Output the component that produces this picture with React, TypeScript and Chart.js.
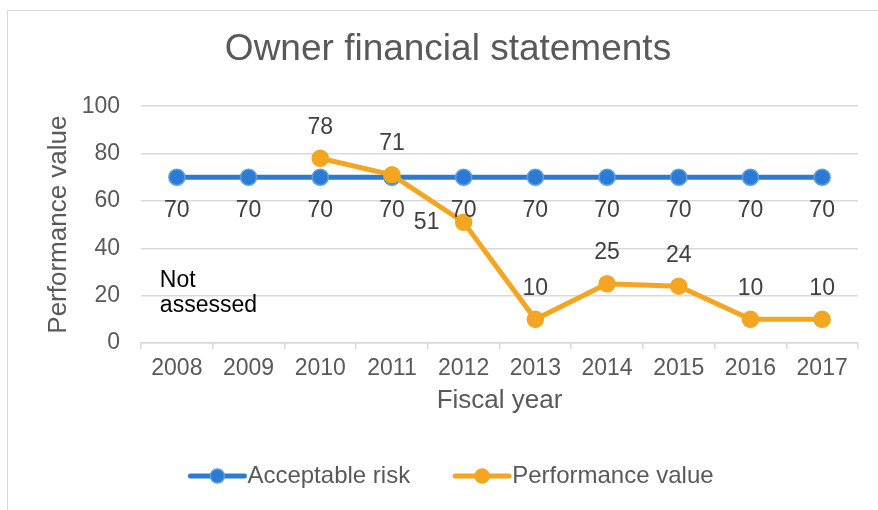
import { useEffect, useRef } from "react";
import { Chart, registerables } from "chart.js";

Chart.register(...registerables);

// ---- data ----
const years = ["2008", "2009", "2010", "2011", "2012", "2013", "2014", "2015", "2016", "2017"];
const acceptableRisk = [70, 70, 70, 70, 70, 70, 70, 70, 70, 70];
const performanceValue: (number | null)[] = [null, null, 78, 71, 51, 10, 25, 24, 10, 10];
const yMin = 0;
const yMax = 100;
const yStep = 20;
const chartTitle = "Owner financial statements";
const xAxisTitle = "Fiscal year";
const yAxisTitle = "Performance value";
const seriesNames = ["Acceptable risk", "Performance value"];
const noteLines = ["Not", "assessed"];

// ---- style ----
const FONT = "'Liberation Sans', Arial, Helvetica, sans-serif";
const BLUE = "#2b7bd5";
const BLUE_EDGE = "#5c9ee2";
const ORANGE = "#f4a521";
const TEXT = "#595959";
const LABEL = "#404040";
const GRID = "#d9d9d9";
// label side for performance series (layout, not data)
const perfLabelSide = ["above", "above", "above", "above", "left", "above", "above", "above", "above", "above"];

const overlayPlugin = {
  id: "overlay",
  afterDatasetsDraw(chart: any) {
    const ctx = chart.ctx as CanvasRenderingContext2D;
    ctx.save();
    ctx.font = `23px ${FONT}`;
    ctx.fillStyle = LABEL;
    ctx.textAlign = "center";
    ctx.textBaseline = "middle";
    chart.data.datasets.forEach((ds: any, di: number) => {
      const meta = chart.getDatasetMeta(di);
      meta.data.forEach((pt: any, i: number) => {
        const v = ds.data[i];
        if (v == null) return;
        let dx = 0;
        let dy = 0;
        if (di === 0) {
          dy = 33;
        } else if (perfLabelSide[i] === "left") {
          dx = -37;
        } else {
          dy = -31;
        }
        ctx.fillText(String(v), pt.x + dx, pt.y + dy);
      });
    });

    // "Not assessed" note
    const xs = chart.scales.x;
    const ys = chart.scales.y;
    ctx.fillStyle = "#000000";
    ctx.textAlign = "left";
    const nx = xs.getPixelForValue(0) - 17;
    const ny = ys.getPixelForValue(26.5);
    noteLines.forEach((t, k) => ctx.fillText(t, nx, ny + k * 25));

    // legend
    ctx.font = `24px ${FONT}`;
    const lineW = 54;
    const gapText = 3;
    const gapItem = 45;
    const colors = [BLUE, ORANGE];
    const edges = [BLUE_EDGE, ORANGE];
    const widths = seriesNames.map((n) => ctx.measureText(n).width);
    const total = widths.reduce((a, w) => a + lineW + gapText + w, 0) + gapItem;
    let x = chart.width / 2 - total / 2 + 13;
    const y = chart.height - 34;
    seriesNames.forEach((n, k) => {
      ctx.strokeStyle = colors[k];
      ctx.lineWidth = 5;
      ctx.lineCap = "round";
      ctx.beginPath();
      ctx.moveTo(x, y);
      ctx.lineTo(x + lineW, y);
      ctx.stroke();
      ctx.beginPath();
      ctx.arc(x + lineW / 2, y, 7, 0, Math.PI * 2);
      ctx.fillStyle = colors[k];
      ctx.fill();
      ctx.lineWidth = 1.5;
      ctx.strokeStyle = edges[k];
      ctx.stroke();
      ctx.fillStyle = TEXT;
      ctx.textAlign = "left";
      ctx.fillText(n, x + lineW + gapText, y);
      x += lineW + gapText + widths[k] + gapItem;
    });
    ctx.restore();
  },
};

export default function App() {
  const ref = useRef<HTMLCanvasElement | null>(null);

  useEffect(() => {
    if (!ref.current) return;
    Chart.defaults.font.family = FONT;
    const chart = new Chart(ref.current, {
      type: "line",
      data: {
        labels: years,
        datasets: [
          {
            label: seriesNames[0],
            data: acceptableRisk,
            borderColor: BLUE,
            backgroundColor: BLUE,
            borderWidth: 5,
            pointRadius: 8,
            pointBackgroundColor: BLUE,
            pointBorderColor: BLUE_EDGE,
            pointBorderWidth: 1.5,
            tension: 0,
            order: 2,
          },
          {
            label: seriesNames[1],
            data: performanceValue,
            borderColor: ORANGE,
            backgroundColor: ORANGE,
            borderWidth: 5,
            pointRadius: 8,
            pointBackgroundColor: ORANGE,
            pointBorderColor: ORANGE,
            pointBorderWidth: 1.5,
            tension: 0,
            order: 1,
          },
        ],
      },
      options: {
        animation: false,
        responsive: false,
        devicePixelRatio: 1,
        layout: { padding: { left: 38, right: 20, top: 0, bottom: 80 } },
        plugins: {
          legend: { display: false },
          tooltip: { enabled: false },
          title: {
            display: true,
            text: chartTitle,
            color: TEXT,
            font: { size: 37, weight: "normal", family: FONT },
            padding: { top: 27.8, bottom: 34 },
          },
        },
        scales: {
          x: {
            type: "category",
            offset: true,
            grid: {
              display: true,
              drawOnChartArea: false,
              drawTicks: true,
              tickLength: 6,
              color: GRID,
              lineWidth: 1.5,
              offset: true,
            },
            border: { display: true, color: GRID, width: 1.5 },
            ticks: { color: TEXT, font: { size: 23, family: FONT }, padding: 6, maxRotation: 0, autoSkip: false },
            title: {
              display: true,
              text: xAxisTitle,
              color: TEXT,
              font: { size: 26, family: FONT },
              padding: { top: 0, bottom: 14 },
            },
            afterFit(s: any) {
              s.height = 87;
            },
          },
          y: {
            min: yMin,
            max: yMax,
            ticks: { stepSize: yStep, color: TEXT, font: { size: 23, family: FONT }, padding: 21 },
            grid: { color: GRID, lineWidth: 1.5, drawTicks: false },
            border: { display: false },
            title: {
              display: true,
              text: yAxisTitle,
              color: TEXT,
              font: { size: 26, family: FONT },
              padding: { top: 5.4, bottom: 0 },
            },
            afterFit(s: any) {
              s.width = 103;
            },
          },
        },
      },
      plugins: [overlayPlugin],
    });
    return () => chart.destroy();
  }, []);

  return (
    <div
      style={{
        position: "fixed",
        left: 0,
        top: 0,
        width: 878,
        height: 510,
        overflow: "hidden",
        background: "#ffffff",
      }}
    >
      <div
        style={{
          position: "absolute",
          left: 7,
          top: 10,
          width: 1000,
          height: 1000,
          borderLeft: `1.5px solid ${GRID}`,
          borderTop: `1.5px solid ${GRID}`,
        }}
      />
      <canvas ref={ref} width={878} height={510} style={{ position: "absolute", left: 0, top: 0, width: 878, height: 510 }} />
    </div>
  );
}
